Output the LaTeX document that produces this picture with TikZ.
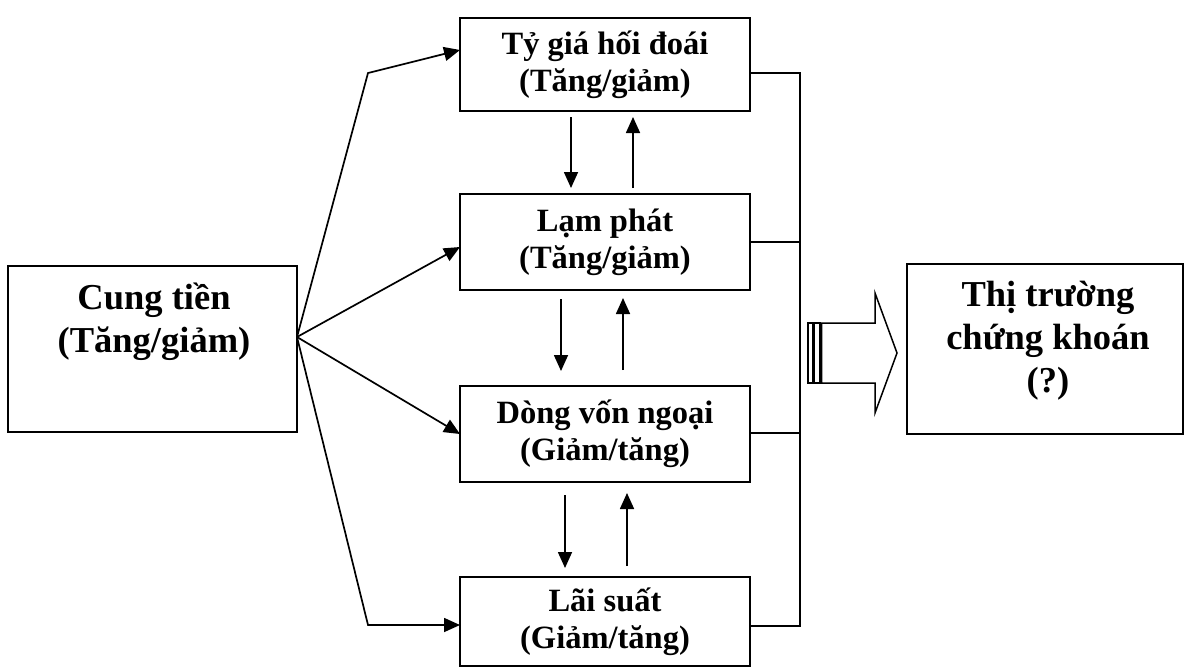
\documentclass[tikz,border=0pt]{standalone}
\usepackage{fontspec}
\setmainfont{Liberation Serif}
\usetikzlibrary{arrows.meta}
\begin{document}
\begin{tikzpicture}[x=1pt,y=-1pt,line width=1.7pt,
  box/.style={draw,inner sep=0pt,outer sep=0pt,minimum width=290pt,align=center,
    font=\fontsize{32.5}{37}\selectfont\bfseries},
  bigbox/.style={draw,inner sep=0pt,outer sep=0pt},
  bigtext/.style={align=center,inner sep=0pt,font=\fontsize{36.5}{43}\selectfont\bfseries},
  arr/.style={-{Triangle[length=16pt,width=14pt]}},
  busline/.style={line width=1.7pt}]
\useasboundingbox (0,0) rectangle (1185,669);
% boxes
\node[bigbox,minimum width=289pt,minimum height=166pt] (b0) at (152.5,349) {};
\node[bigtext] (t0) at (154,322) {Cung tiền\\(Tăng/giảm)};
\node[box,minimum height=93pt] (b1) at (605,64.5) {Tỷ giá hối đoái\\(Tăng/giảm)};
\node[box,minimum height=96pt] (b2) at (605,242) {Lạm phát\\(Tăng/giảm)};
\node[box,minimum height=96pt] (b3) at (605,434) {Dòng vốn ngoại\\(Giảm/tăng)};
\node[box,minimum height=89pt] (b4) at (605,621.5) {Lãi suất\\(Giảm/tăng)};
\node[bigbox,minimum width=276pt,minimum height=170pt] (b5) at (1045,349) {};
\node[bigtext] (t5) at (1048,341) {Thị trường\\chứng khoán\\(?)};
% fan arrows
\coordinate (f) at ([yshift=12pt]b0.east);
\coordinate (k1) at (368,73);
\coordinate (k4) at (368,625);
\draw[arr] (f) -- (k1) -- ([yshift=14.5pt]b1.west);
\draw[arr] (f) -- ([yshift=-5pt]b2.west);
\draw[arr] (f) -- (b3.west);
\draw[arr] (f) -- (k4) -- ([yshift=-3.5pt]b4.west);
% vertical arrows
\draw[arr] ([xshift=-34pt,yshift=-6pt]b1.south) -- ([xshift=-34pt,yshift=6pt]b2.north);
\draw[arr] ([xshift=28pt,yshift=6pt]b2.north) -- ([xshift=28pt,yshift=-6pt]b1.south);
\draw[arr] ([xshift=-44pt,yshift=-9pt]b2.south) -- ([xshift=-44pt,yshift=15pt]b3.north);
\draw[arr] ([xshift=18pt,yshift=16pt]b3.north) -- ([xshift=18pt,yshift=-8pt]b2.south);
\draw[arr] ([xshift=-40pt,yshift=-13pt]b3.south) -- ([xshift=-40pt,yshift=9pt]b4.north);
\draw[arr] ([xshift=22pt,yshift=11pt]b4.north) -- ([xshift=22pt,yshift=-11pt]b3.south);
% bus
\coordinate (bt) at (800,73);
\coordinate (bb) at (800,626);
\draw[busline] ([yshift=-8.5pt]b1.east) -- (bt) -- (bb) -- ([yshift=-4.5pt]b4.east);
\draw[busline] (b2.east) -- (800,242);
\draw[busline] ([yshift=1pt]b3.east) -- (800,433);
% block arrow
\draw[line width=1.5pt] (808,323) rectangle (812.5,383);
\draw[line width=1.5pt] (814,323) rectangle (820,383);
\draw[line width=1.5pt] (821.5,323) -- (875,323) -- (875,293) -- (897,353) -- (875,413) -- (875,383) -- (821.5,383) -- cycle;
\end{tikzpicture}
\end{document}
